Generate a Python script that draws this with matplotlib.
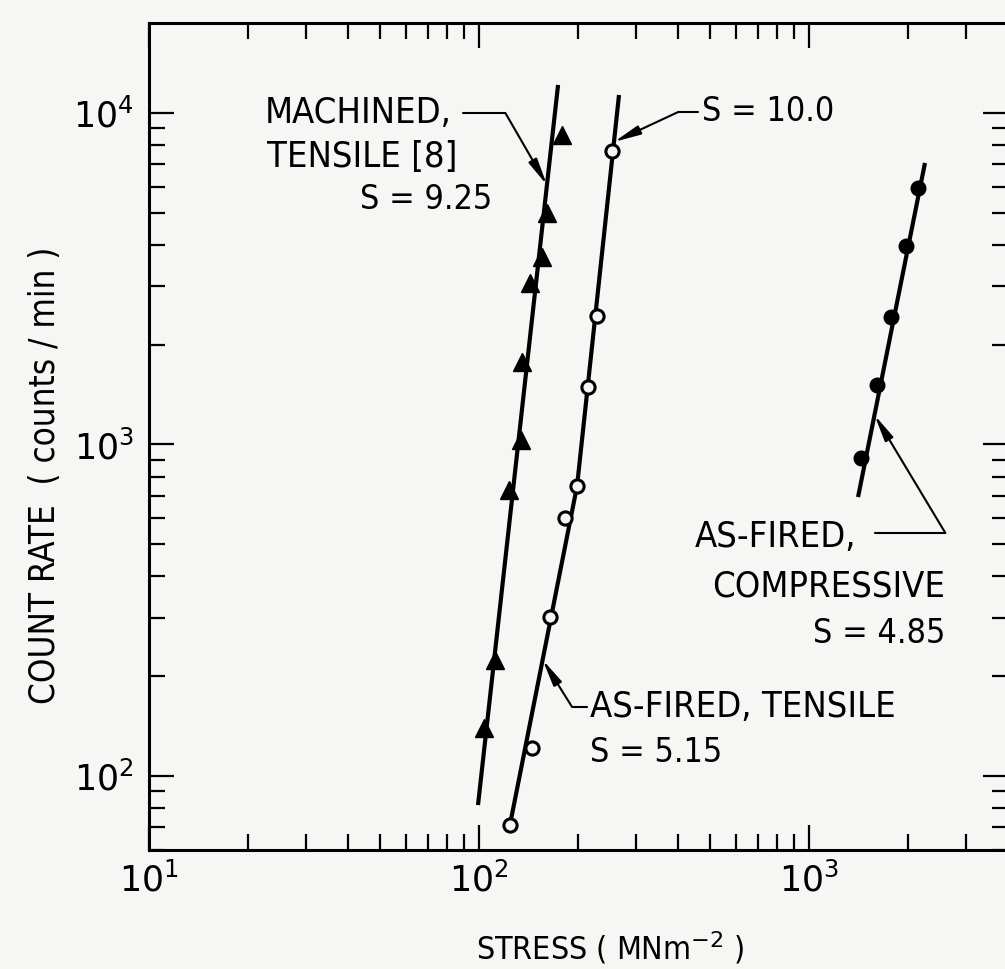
import os
import numpy as np
import matplotlib
matplotlib.use("Agg")
import matplotlib.pyplot as plt
from matplotlib import font_manager
from matplotlib.font_manager import FontProperties
from matplotlib.ticker import LogLocator, NullFormatter, LogFormatterMathtext

# machined, tensile [8] -- triangles
machined_stress = [103.5, 111.8, 123.3, 134.1, 135.0, 142.7, 155.2, 160.7, 178.4]
machined_rate = [140, 224, 729, 1032, 1774, 3070, 3678, 4993, 8584]
machined_fit_stress = [99.3, 173.6]
machined_fit_rate = [81.7, 12150]

# as-fired, tensile -- open circles (two slopes, S = 5.15 and S = 10.0)
tensile_stress = [124.1, 144.7, 164.1, 182.3, 198.2, 213.9, 227.9, 252.9]
tensile_rate = [71.2, 121.5, 301.7, 600, 749.5, 1491, 2441, 7682]
tensile_fit_stress = [124.1, 198.2, 265.6]
tensile_fit_rate = [71.2, 749.5, 11330]

# as-fired, compressive -- filled circles
compressive_stress = [1437.6, 1607.6, 1772.6, 1967.6, 2139.5]
compressive_rate = [910.8, 1512, 2424, 3971, 5939]
compressive_fit_stress = [1408, 2246]
compressive_fit_rate = [694, 7067]

# count rate where each leader touches its line
machined_tip_rate = 6064
tensile_upper_tip_rate = 8176
tensile_lower_tip_rate = 224
compressive_tip_rate = 1227

W, H = 1005, 969
AX_L, AX_R, AX_T, AX_B = 149, 1007.7, 23, 850
BG = "#f6f6f4"

plt.rcParams["font.family"] = ["DejaVu Sans"]
plt.rcParams["mathtext.fontset"] = "dejavusans"


def narrow_font():
    """a condensed sans if one is installed, else None"""
    regular = (400, "normal", "regular", "book")
    files = {os.path.basename(f.fname): f for f in font_manager.fontManager.ttflist}
    for name in ("DejaVuSansCondensed.ttf", "LiberationSansNarrow-Regular.ttf",
                 "RobotoCondensed-Regular.ttf", "NotoSans-Condensed.ttf",
                 "OpenSans_Condensed-Regular.ttf"):
        if name in files:
            return files[name].fname
    for f in font_manager.fontManager.ttflist:
        if (("Condensed" in f.name or "Narrow" in f.name or f.stretch == "condensed")
                and f.style == "normal" and f.weight in regular):
            return f.fname
    return None


nf = narrow_font()
if nf:
    def fp(size):
        return FontProperties(fname=nf, size=size)
    SZ_NOTE, SZ_S, SZ_YLAB, SZ_XLAB = 26, 24.5, 25, 23
else:
    def fp(size):
        return FontProperties(family="DejaVu Sans", size=size)
    SZ_NOTE, SZ_S, SZ_YLAB, SZ_XLAB = 23.5, 22, 22, 20


def frac(px, py):
    """pixel position in the picture -> axes fraction"""
    return ((px - AX_L) / (AX_R - AX_L), (AX_B - py) / (AX_B - AX_T))


def on_line(rate, fit_stress, fit_rate):
    lx = np.interp(np.log10(rate), np.log10(fit_rate), np.log10(fit_stress))
    return (10 ** lx, rate)


fig = plt.figure(figsize=(W / 100, H / 100), dpi=100, facecolor=BG)
ax = fig.add_axes([AX_L / W, 1 - AX_B / H, (AX_R - AX_L) / W, (AX_B - AX_T) / H])
ax.set_facecolor(BG)
ax.set_xscale("log")
ax.set_yscale("log")
ax.set_xlim(10, 4000)
ax.set_ylim(59.8, 18680)

line_kw = dict(color="black", lw=3.0, solid_capstyle="butt", zorder=2)
ax.plot(machined_fit_stress, machined_fit_rate, **line_kw)
ax.plot(tensile_fit_stress, tensile_fit_rate, **line_kw)
ax.plot(compressive_fit_stress, compressive_fit_rate, **line_kw)

ax.plot(machined_stress, machined_rate, ls="none", marker="^", ms=12.5,
        color="black", zorder=3)
ax.plot(tensile_stress, tensile_rate, ls="none", marker="o", ms=9.5,
        mfc=BG, mec="black", mew=2.2, zorder=3)
ax.plot(compressive_stress, compressive_rate, ls="none", marker="o", ms=10.5,
        color="black", zorder=3)

# axes styling
for s in ax.spines.values():
    s.set_linewidth(2.2)
ax.tick_params(which="both", direction="in", top=True, right=True,
               width=1.6, labelsize=25)
ax.tick_params(axis="x", pad=9)
ax.tick_params(axis="y", pad=11)
ax.tick_params(which="major", length=18)
ax.tick_params(which="minor", length=11.5)
ax.xaxis.set_major_locator(LogLocator(base=10))
ax.yaxis.set_major_locator(LogLocator(base=10))
ax.xaxis.set_minor_locator(LogLocator(base=10, subs=np.arange(2, 10)))
ax.yaxis.set_minor_locator(LogLocator(base=10, subs=np.arange(2, 10)))
ax.xaxis.set_major_formatter(LogFormatterMathtext())
ax.yaxis.set_major_formatter(LogFormatterMathtext())
ax.xaxis.set_minor_formatter(NullFormatter())
ax.yaxis.set_minor_formatter(NullFormatter())

ax.set_xlabel("STRESS ( MNm$^{-2}$ )", fontproperties=fp(SZ_XLAB), va="baseline")
ax.xaxis.set_label_coords(*frac(610, 960))
ax.set_ylabel("COUNT RATE  ( counts / min )", fontproperties=fp(SZ_YLAB), va="center")
ax.yaxis.set_label_coords(*frac(45, 475))

# annotations
txt = dict(va="center", transform=ax.transAxes, fontproperties=fp(SZ_NOTE))
stxt = dict(va="center", transform=ax.transAxes, fontproperties=fp(SZ_S))
ax.text(*frac(265, 113), "MACHINED,", ha="left", **txt)
ax.text(*frac(267, 157), "TENSILE [8]", ha="left", **txt)
ax.text(*frac(360, 200), "S = 9.25", ha="left", **stxt)
ax.text(*frac(702, 112), "S = 10.0", ha="left", **stxt)
ax.text(*frac(590, 707), "AS-FIRED, TENSILE", ha="left", **txt)
ax.text(*frac(590, 752), "S = 5.15", ha="left", **stxt)
ax.text(*frac(695, 537), "AS-FIRED,", ha="left", **txt)
ax.text(*frac(945, 587), "COMPRESSIVE", ha="right", **txt)
ax.text(*frac(945, 634), "S = 4.85", ha="right", **stxt)


def leader(tip, start_px, angle_b):
    ax.annotate("", xy=tip, xycoords="data",
                xytext=frac(*start_px), textcoords="axes fraction",
                arrowprops=dict(arrowstyle="-|>,head_length=0.8,head_width=0.14",
                                color="black", lw=1.5, shrinkA=0, shrinkB=0,
                                mutation_scale=20,
                                connectionstyle=f"angle,angleA=0,angleB={angle_b},rad=0"),
                zorder=4)


leader(on_line(machined_tip_rate, machined_fit_stress, machined_fit_rate), (463, 113), -60)
leader(on_line(tensile_upper_tip_rate, tensile_fit_stress, tensile_fit_rate), (698, 112), 25)
leader(on_line(tensile_lower_tip_rate, tensile_fit_stress, tensile_fit_rate), (587, 707), 122)
leader(on_line(compressive_tip_rate, compressive_fit_stress, compressive_fit_rate), (875, 533), 121)

fig.savefig("out.png", dpi=100, facecolor=BG)
